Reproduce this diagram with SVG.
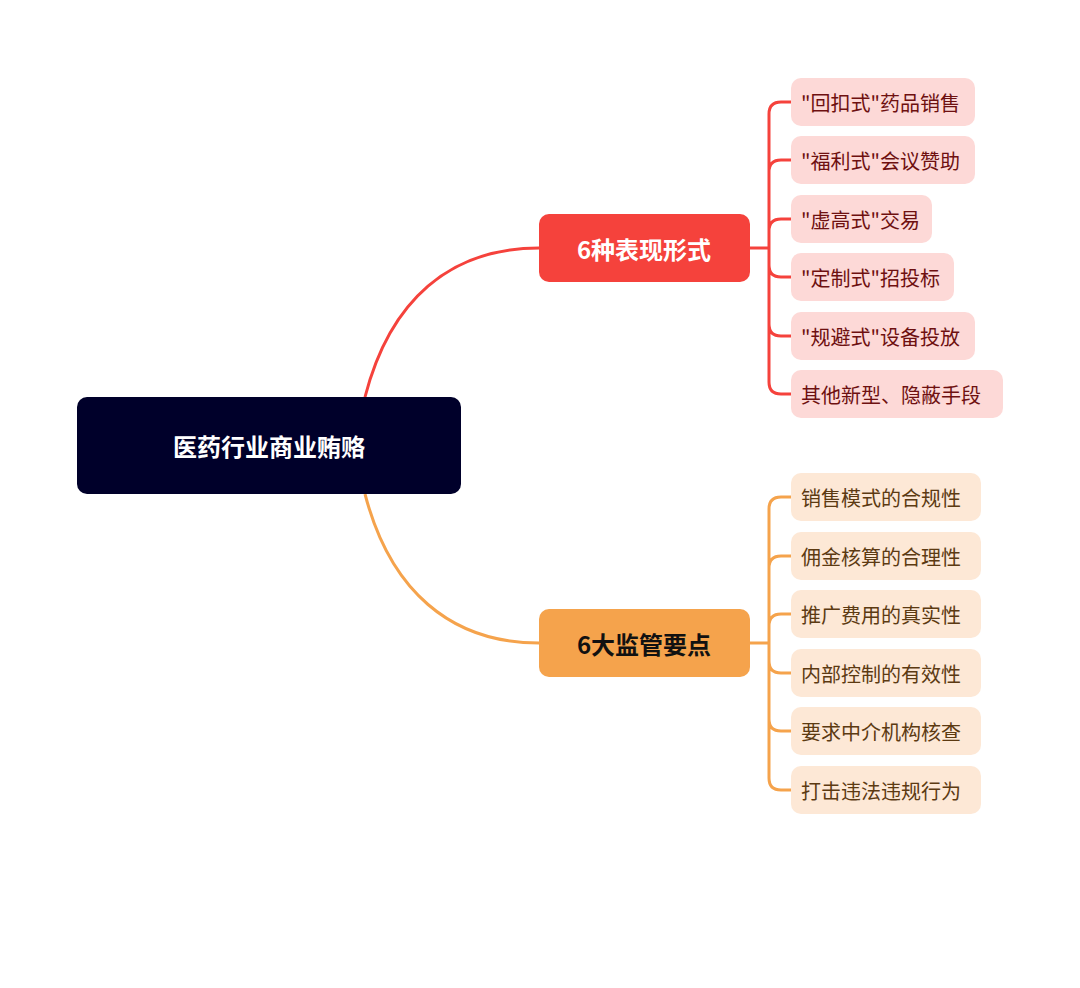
<svg xmlns="http://www.w3.org/2000/svg" width="1080" height="988" viewBox="0 0 1080 988">
<style>
text{font-family:"Noto Sans CJK SC","Noto Sans",sans-serif;dominant-baseline:central}
.r{fill:#fdd9d7}.o{fill:#fde8d6}
.rt{fill:#6e1010;font-size:20px}.ot{fill:#5c3a12;font-size:20px}
.rl{stroke:#f5423c;stroke-width:3;fill:none}.ol{stroke:#f5a34c;stroke-width:3;fill:none}
.mt{font-size:24px;font-weight:bold;text-anchor:middle}
</style>
<rect width="1080" height="988" fill="#fff"/>
<g id="connectors">
<path class="rl" d="M365 397 C390 300 450 248 539 248"/>
<path class="ol" d="M365 494 C390 590 450 643 539 643"/>
<path class="rl" d="M750 248 H769 M791 102 H781 Q769 102 769 114 V382 Q769 394 781 394 H791 M769 160 Q769 160 769 160 M791 160 H781 Q769 160 769 172 M791 219 H781 Q769 219 769 231 M791 277 H781 Q769 277 769 265 M791 336 H781 Q769 336 769 324"/>
<path class="ol" d="M750 643 H769 M791 497 H781 Q769 497 769 509 V778 Q769 790 781 790 H791 M791 556 H781 Q769 556 769 568 M791 614 H781 Q769 614 769 626 M791 673 H781 Q769 673 769 661 M791 731 H781 Q769 731 769 719"/>
</g>
<g id="root"><rect x="77" y="397" width="384" height="97" rx="10" fill="#00002a"/><text x="269" y="445" class="mt" fill="#fff" font-size="34">医药行业商业贿赂</text></g>
<g id="red"><rect x="539" y="214" width="211" height="68" rx="10" fill="#f5423c"/><text x="644" y="248" class="mt" fill="#fff">6种表现形式</text></g>
<g id="orange"><rect x="539" y="609" width="211" height="68" rx="10" fill="#f5a34c"/><text x="644" y="643" class="mt" fill="#111">6大监管要点</text></g>
<g id="r1"><rect class="r" x="791" y="78" width="184" height="48" rx="10"/><text class="rt" x="801" y="102">"回扣式"药品销售</text></g>
<g id="r2"><rect class="r" x="791" y="136" width="184" height="48" rx="10"/><text class="rt" x="801" y="160">"福利式"会议赞助</text></g>
<g id="r3"><rect class="r" x="791" y="195" width="141" height="48" rx="10"/><text class="rt" x="801" y="219">"虚高式"交易</text></g>
<g id="r4"><rect class="r" x="791" y="253" width="163" height="48" rx="10"/><text class="rt" x="801" y="277">"定制式"招投标</text></g>
<g id="r5"><rect class="r" x="791" y="312" width="184" height="48" rx="10"/><text class="rt" x="801" y="336">"规避式"设备投放</text></g>
<g id="r6"><rect class="r" x="791" y="370" width="212" height="48" rx="10"/><text class="rt" x="801" y="394">其他新型、隐蔽手段</text></g>
<g id="o1"><rect class="o" x="791" y="473" width="190" height="48" rx="10"/><text class="ot" x="801" y="497">销售模式的合规性</text></g>
<g id="o2"><rect class="o" x="791" y="532" width="190" height="48" rx="10"/><text class="ot" x="801" y="556">佣金核算的合理性</text></g>
<g id="o3"><rect class="o" x="791" y="590" width="190" height="48" rx="10"/><text class="ot" x="801" y="614">推广费用的真实性</text></g>
<g id="o4"><rect class="o" x="791" y="649" width="190" height="48" rx="10"/><text class="ot" x="801" y="673">内部控制的有效性</text></g>
<g id="o5"><rect class="o" x="791" y="707" width="190" height="48" rx="10"/><text class="ot" x="801" y="731">要求中介机构核查</text></g>
<g id="o6"><rect class="o" x="791" y="766" width="190" height="48" rx="10"/><text class="ot" x="801" y="790">打击违法违规行为</text></g>
</svg>
